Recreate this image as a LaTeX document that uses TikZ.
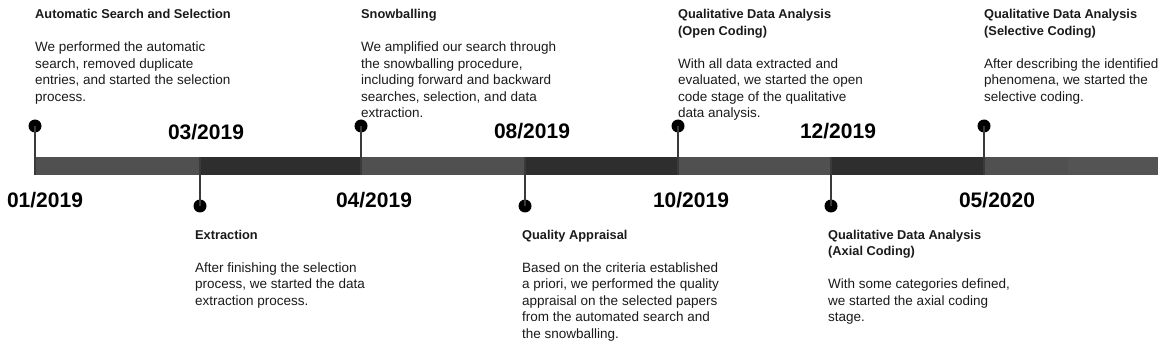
\documentclass[tikz,border=0pt]{standalone}
\usepackage{fontspec}
\setmainfont{Liberation Sans}
\usepackage{xcolor}
\usepackage{tikz}
\definecolor{barlight}{HTML}{505050}
\definecolor{bartail}{HTML}{545454}
\definecolor{bardark}{HTML}{2E2E2E}
\definecolor{stemgray}{HTML}{3A3A3A}
\definecolor{inkgray}{HTML}{1A1A1A}
\newcommand{\phasetitle}[1]{{\fontsize{12.8}{16.5}\selectfont\bfseries #1}}

\begin{document}
\begin{tikzpicture}[x=1pt, y=-1pt,
  dot/.style={circle, fill=black, inner sep=0pt, minimum size=13pt},
  stem/.style={draw=stemgray, line width=1.6pt},
  datelbl/.style={inner sep=0pt, font=\fontsize{21}{21}\selectfont\bfseries},
  blurb/.style={anchor=north west, inner sep=0pt, align=left, text=inkgray, font=\fontsize{13.5}{16.5}\selectfont}]
  \useasboundingbox (0,0) rectangle (1166,347);
  \fill[barlight] (35,157) rectangle (200,175);
  \fill[bardark] (200,157) rectangle (361,175);
  \fill[barlight] (361,157) rectangle (525,175);
  \fill[bardark] (525,157) rectangle (678,175);
  \fill[barlight] (678,157) rectangle (831,175);
  \fill[bardark] (831,157) rectangle (984,175);
  \fill[barlight] (984,157) rectangle (1068,175);
  \fill[bartail] (1068,157) rectangle (1158,175);

  \coordinate (b1) at (35,175);  \coordinate (b2) at (200,157);
  \coordinate (b3) at (361,175); \coordinate (b4) at (525,157);
  \coordinate (b5) at (678,175); \coordinate (b6) at (831,157);
  \coordinate (b7) at (984,175);

  \node[dot] (d1) at (35,126) {};  \node[dot] (d2) at (200,206) {};
  \node[dot] (d3) at (361,126) {}; \node[dot] (d4) at (525,206) {};
  \node[dot] (d5) at (678,126) {}; \node[dot] (d6) at (831,206) {};
  \node[dot] (d7) at (984,126) {};
  \draw[stem] (d1.center) -- (b1); \draw[stem] (b2) -- (d2.center);
  \draw[stem] (d3.center) -- (b3); \draw[stem] (b4) -- (d4.center);
  \draw[stem] (d5.center) -- (b5); \draw[stem] (b6) -- (d6.center);
  \draw[stem] (d7.center) -- (b7);

  \node[datelbl] (t1) at (45,200) {01/2019};
  \node[datelbl] (t2) at (206,132) {03/2019};
  \node[datelbl] (t3) at (374,200) {04/2019};
  \node[datelbl] (t4) at (532,131) {08/2019};
  \node[datelbl] (t5) at (691,200) {10/2019};
  \node[datelbl] (t6) at (838,131) {12/2019};
  \node[datelbl] (t7) at (997,200) {05/2020};

  \node[blurb] (autosel) at (35,9.3) {\phasetitle{Automatic Search and Selection}\\[16.5pt]
    We performed the automatic\\search, removed duplicate\\entries, and started the selection\\process.};
  \node[blurb] (snowball) at (361,9.3) {\phasetitle{Snowballing}\\[16.5pt]
    We amplified our search through\\the snowballing procedure,\\including forward and backward\\searches, selection, and data\\extraction.};
  \node[blurb] (opencode) at (678,9.3) {\phasetitle{Qualitative Data Analysis}\\\phasetitle{(Open Coding)}\\[16.5pt]
    With all data extracted and\\evaluated, we started the open\\code stage of the qualitative\\data analysis.};
  \node[blurb] (selcode) at (984,9.3) {\phasetitle{Qualitative Data Analysis}\\\phasetitle{(Selective Coding)}\\[16.5pt]
    After describing the identified\\phenomena, we started the\\selective coding.};
  \node[blurb] (extract) at (195,230) {\phasetitle{Extraction}\\[16.5pt]
    After finishing the selection\\process, we started the data\\extraction process.};
  \node[blurb] (quality) at (522,230) {\phasetitle{Quality Appraisal}\\[16.5pt]
    Based on the criteria established\\a priori, we performed the quality\\appraisal on the selected papers\\from the automated search and\\the snowballing.};
  \node[blurb] (axial) at (828,230) {\phasetitle{Qualitative Data Analysis}\\\phasetitle{(Axial Coding)}\\[16.5pt]
    With some categories defined,\\we started the axial coding\\stage.};
\end{tikzpicture}
\end{document}
